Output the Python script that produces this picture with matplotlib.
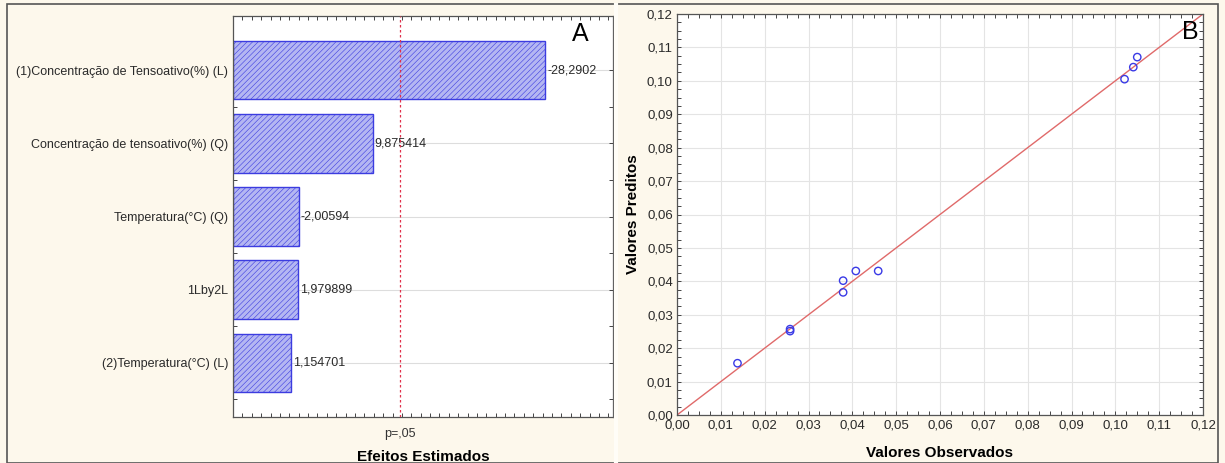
import matplotlib
matplotlib.use("Agg")
import matplotlib.pyplot as plt
import numpy as np
from matplotlib.ticker import MultipleLocator, AutoMinorLocator, FixedLocator
from matplotlib.patches import Rectangle

plt.rcParams['font.family'] = ['Liberation Sans', 'DejaVu Sans']
plt.rcParams['hatch.linewidth'] = 0.4

# ---- Data: panel A (Pareto of effects) ----
effect_labels = ["(1)Concentração de Tensoativo(%) (L)",
                 "Concentração de tensoativo(%) (Q)",
                 "Temperatura(°C) (Q)",
                 "1Lby2L",
                 "(2)Temperatura(°C) (L)"]
effect_values = [-28.2902, 9.875414, -2.00594, 1.979899, 1.154701]
effect_texts = ["-28,2902", "9,875414", "-2,00594", "1,979899", "1,154701"]
p_value_line = 12.78

# ---- Data: panel B (observed vs predicted) ----
observed = [0.0138, 0.0258, 0.0258, 0.0379, 0.0379, 0.0408, 0.0459, 0.1021, 0.1041, 0.1050]
predicted = [0.0155, 0.0257, 0.0251, 0.0402, 0.0367, 0.0431, 0.0431, 0.1005, 0.1041, 0.1071]

W, H = 1225, 463
fig = plt.figure(figsize=(W/100, H/100), dpi=100)
bg = '#fdf8ec'
fig.patch.set_facecolor(bg)

# outer border
fig.patches.append(Rectangle((7/W, 0), (1218-7)/W, 1-4/H, transform=fig.transFigure,
                             fill=False, edgecolor='#555555', lw=1.2))
fig.add_artist(plt.Line2D([616/W, 616/W], [0, 1-5/H], transform=fig.transFigure,
                          color='#fffdf7', lw=3))

# ---------- Panel A ----------
axA = fig.add_axes([233/W, 1-417/H, (613-233)/W, (417-16)/H])
axA.set_facecolor('white')
x0 = -5.0
abs_vals = np.abs(effect_values)
ypos = np.arange(len(effect_labels))
axA.barh(ypos, abs_vals - x0, left=x0, height=0.8, color='#b4b6f2',
         edgecolor='#3c3ce0', hatch='//////', linewidth=1.0, zorder=2)
axA.set_xlim(x0, 35.5)
axA.set_ylim(4.74, -0.74)
axA.set_yticks(ypos)
axA.set_yticklabels(effect_labels, fontsize=9.0, color='#2a2a2a')
axA.yaxis.set_minor_locator(FixedLocator(ypos + 0.5))
axA.grid(axis='y', color='#dddddd', lw=0.8, zorder=0)
for y, v, t in zip(ypos, abs_vals, effect_texts):
    axA.text(v + 0.2, y, t, va='center', ha='left', fontsize=9.0, color='#2a2a2a', zorder=3)
axA.axvline(p_value_line, color='#e0304a', lw=0.9, ls=(0, (2, 2)), zorder=3)
axA.set_xticks(np.arange(-5, 36, 5))
axA.xaxis.set_minor_locator(MultipleLocator(1))
axA.set_xticklabels([])
axA.tick_params(axis='both', which='both', direction='in', top=True, right=True,
                length=3, width=0.7, color='#444444')
axA.text(p_value_line, -0.027, "p=,05", transform=axA.get_xaxis_transform(),
         ha='center', va='top', fontsize=9.0, color='#333333')
axA.set_xlabel("Efeitos Estimados", fontsize=11, fontweight='bold', labelpad=20)
axA.text(0.913, 0.985, "A", transform=axA.transAxes, ha='center', va='top', fontsize=18)
for s in axA.spines.values():
    s.set_color('#555555'); s.set_linewidth(0.9)

# ---------- Panel B ----------
axB = fig.add_axes([677/W, 1-415/H, (1203-677)/W, (415-14)/H])
axB.set_facecolor('white')
axB.plot([0, 0.12], [0, 0.12], color='#e06a6a', lw=1.0, zorder=2)
axB.scatter(observed, predicted, s=28, facecolors='none', edgecolors='#3a3ae6',
            linewidths=1.0, zorder=3)
axB.set_xlim(0, 0.12)
axB.set_ylim(0, 0.12)
ticks = np.round(np.arange(0, 0.1201, 0.01), 2)
axB.set_xticks(ticks)
axB.set_yticks(ticks)
fmt = [f"{t:.2f}".replace('.', ',') for t in ticks]
axB.set_xticklabels(fmt, fontsize=9.5, color='#2a2a2a')
axB.set_yticklabels(fmt, fontsize=9.5, color='#2a2a2a')
axB.xaxis.set_minor_locator(AutoMinorLocator(4))
axB.yaxis.set_minor_locator(AutoMinorLocator(4))
axB.grid(which='major', color='#e4e4e4', lw=0.8, zorder=0)
axB.tick_params(axis='both', which='both', direction='in', top=True, right=True,
                length=3, width=0.7, color='#444444', pad=3)
axB.set_xlabel("Valores Observados", fontsize=11, fontweight='bold', labelpad=11)
axB.set_ylabel("Valores Preditos", fontsize=11, fontweight='bold', labelpad=5)
axB.text(0.975, 0.985, "B", transform=axB.transAxes, ha='center', va='top', fontsize=18)
for s in axB.spines.values():
    s.set_color('#555555'); s.set_linewidth(0.9)

fig.savefig("out.png", dpi=100, facecolor=bg)
